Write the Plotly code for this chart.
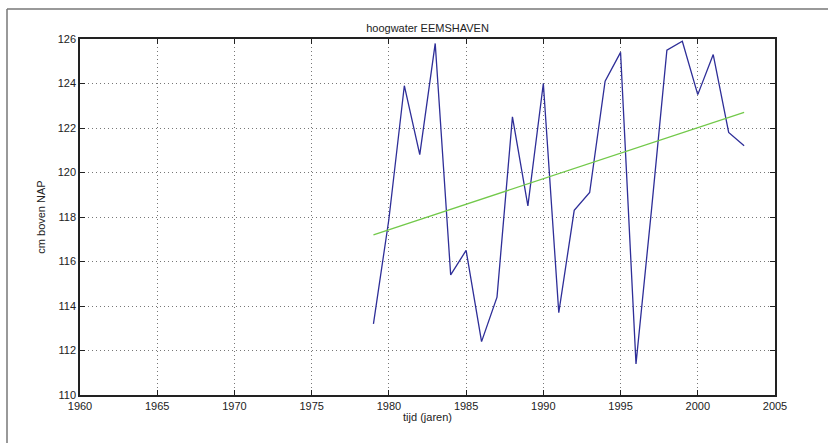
import plotly.graph_objects as go

years = list(range(1979, 2004))
hoogwater = [113.2, 117.9, 123.9, 120.8, 125.8, 115.4, 116.5, 112.4, 114.4, 122.5,
             118.5, 124.0, 113.7, 118.3, 119.1, 124.1, 125.4, 111.4, 118.3, 125.5,
             125.9, 123.5, 125.3, 121.8, 121.2]
trend_years = [1979, 2003]
trend_values = [117.2, 122.7]

x_ticks = [1960, 1965, 1970, 1975, 1980, 1985, 1990, 1995, 2000, 2005]
y_ticks = [110, 112, 114, 116, 118, 120, 122, 124, 126]

fig = go.Figure()
fig.add_trace(go.Scatter(x=years, y=hoogwater, mode="lines",
                         line=dict(color="#2e2e98", width=1.3), showlegend=False))
fig.add_trace(go.Scatter(x=trend_years, y=trend_values, mode="lines",
                         line=dict(color="#72c94a", width=1.3), showlegend=False))

font = dict(family="Liberation Sans, Arial, sans-serif", size=11, color="#222222")

axis_common = dict(
    showline=True, linecolor="#222222", linewidth=1.5, mirror="ticks",
    ticks="inside", ticklen=5, tickcolor="#222222", tickwidth=1,
    showgrid=True, gridcolor="#777777", griddash="1px,3px", gridwidth=1,
    zeroline=False, tickfont=font,
)

fig.update_layout(
    width=829, height=444,
    margin=dict(l=80, r=54, t=39, b=49),
    paper_bgcolor="white", plot_bgcolor="white",
    font=font,
    title=dict(text="hoogwater EEMSHAVEN", x=0.5, xanchor="center", xref="paper",
               y=1, yref="paper", yanchor="bottom", pad=dict(b=7),
               font=dict(family="Liberation Sans, Arial, sans-serif", size=11, color="#222222")),
    xaxis=dict(range=[1960, 2005], tickvals=x_ticks,
               title=dict(text="tijd (jaren)", standoff=2, font=font), **axis_common),
    yaxis=dict(range=[110, 126], tickvals=y_ticks,
               title=dict(text="cm boven NAP", standoff=10, font=font), **axis_common),
)

# outer frame (left and top edges visible in reference)
pw = 829 - 80 - 54
ph = 444 - 39 - 49
fx = (7 - 80) / pw
fy = (444 - 49 - 9) / ph
fig.add_shape(type="line", xref="paper", yref="paper", x0=fx, x1=fx, y0=fy, y1=-48 / ph,
              line=dict(color="#777777", width=1.5))
fig.add_shape(type="line", xref="paper", yref="paper", x0=fx, x1=(828 - 80) / pw, y0=fy, y1=fy,
              line=dict(color="#777777", width=1.5))

fig.write_html("out.html", config={"displayModeBar": False},
               post_script="document.body.style.margin='0';document.body.style.overflow='hidden';"
                           "document.documentElement.style.overflow='hidden';")
